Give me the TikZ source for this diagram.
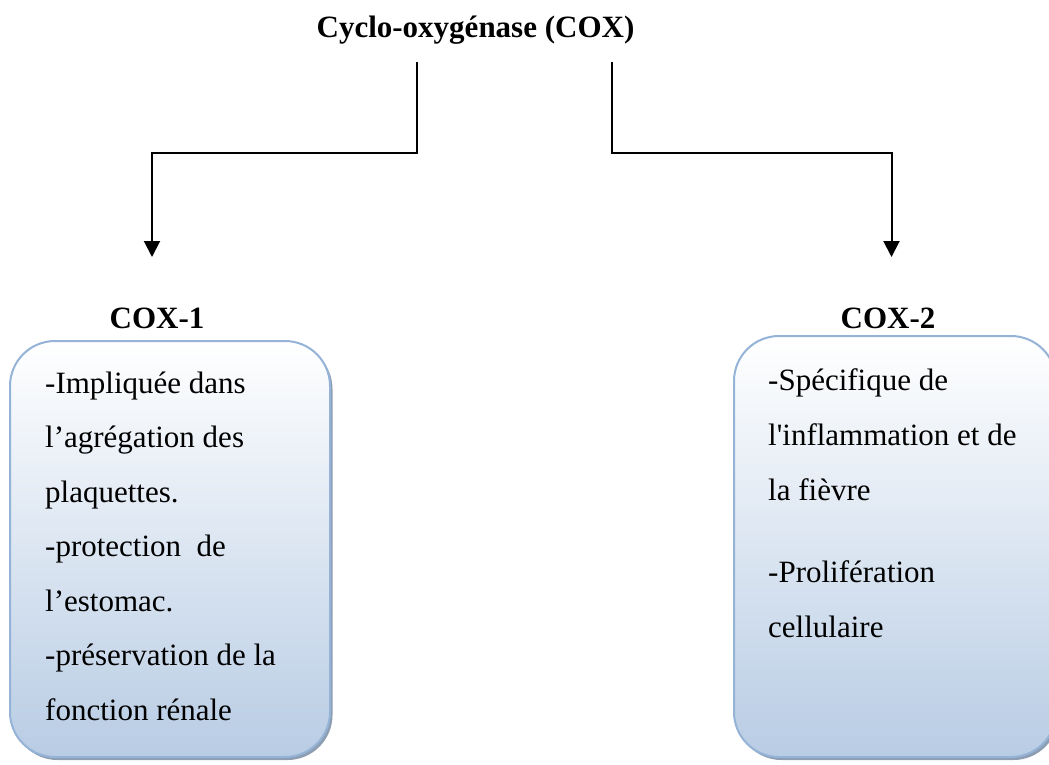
\documentclass[tikz,border=0pt]{standalone}
\usepackage{fontspec}
\setmainfont{Liberation Serif}
\usetikzlibrary{arrows.meta,shadows}

\definecolor{boxline}{HTML}{95B3D7}
\definecolor{boxfill}{HTML}{B8CCE4}
\definecolor{boxshadow}{HTML}{8192AA}

\tikzset{
  heading/.style={font=\fontsize{31}{36}\selectfont\bfseries, inner sep=0pt, anchor=base},
  infobox/.style={draw=boxline, line width=2pt, rounded corners=45pt,
    top color=white, bottom color=boxfill, anchor=north west, inner sep=0pt,
    drop shadow={shadow xshift=2.5pt, shadow yshift=-3pt, fill=boxshadow, opacity=0.9}},
  bodytext/.style={inner sep=0pt, anchor=base west},
  link/.style={line width=2pt, line join=miter, -{Triangle[width=16pt,length=16pt]}}
}

\begin{document}
\begin{tikzpicture}[x=1pt,y=-1pt]
  \useasboundingbox (0,0) rectangle (1049,764);
  \clip (0,0) rectangle (1049,764);

  % heading and the two isoform labels
  \node[heading] (title) at (475.5,37) {Cyclo-oxygénase (COX)};
  \node[heading] (cox1) at (157,328) {COX-1};
  \node[heading] (cox2) at (888,328) {COX-2};

  % branch connectors
  \coordinate (ltop)  at (416.5,62);
  \coordinate (lbend) at (152,153);
  \coordinate (ltip)  at (152,257);
  \coordinate (rtop)  at (611.5,62);
  \coordinate (rbend) at (891.5,153);
  \coordinate (rtip)  at (891.5,257);
  \draw[link] (ltop) |- (lbend) -- (ltip);
  \draw[link] (rtop) |- (rbend) -- (rtip);

  % description boxes
  \node[infobox, minimum width=320pt, minimum height=416pt] (box1) at (9,340) {};
  \node[infobox, minimum width=322pt, minimum height=421pt] (box2) at (733,335) {};

  \node[bodytext, font=\fontsize{31}{54.5}\selectfont] (text1) at (45,393)
    {\parbox[t]{280pt}{\raggedright
      -Impliquée dans\\
      l’agrégation des\\
      plaquettes.\\
      -protection~ de\\
      l’estomac.\\
      -préservation de la\\
      fonction rénale}};

  \node[bodytext, font=\fontsize{31}{55}\selectfont] (text2) at (768,390)
    {\parbox[t]{280pt}{\raggedright
      -Spécifique de\\
      l\textquotesingle inflammation et de\\
      la fièvre\\[27pt]
      -Prolifération\\
      cellulaire}};
\end{tikzpicture}
\end{document}
